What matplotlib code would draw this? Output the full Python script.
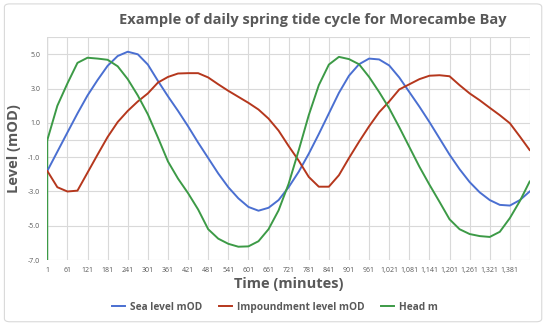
import matplotlib
matplotlib.use("Agg")
import matplotlib.pyplot as plt
from matplotlib.patches import FancyBboxPatch

# time in minutes, sampled every 30 min off the chart
minutes = [1, 31, 61, 91, 121, 151, 181, 211, 241, 271, 301, 331, 361, 391, 421,
           451, 481, 511, 541, 571, 601, 631, 661, 691, 721, 751, 781, 811, 841,
           871, 901, 931, 961, 991, 1021, 1051, 1081, 1111, 1141, 1171, 1201,
           1231, 1261, 1291, 1321, 1351, 1381, 1411, 1440]

sea_level = [-1.80, -0.68, 0.44, 1.55, 2.60, 3.50, 4.33, 4.90, 5.15, 5.00, 4.40,
             3.45, 2.55, 1.70, 0.80, -0.15, -1.05, -1.95, -2.75, -3.40, -3.90,
             -4.12, -3.95, -3.50, -2.75, -1.85, -0.80, 0.35, 1.55, 2.75, 3.75,
             4.42, 4.75, 4.70, 4.35, 3.65, 2.80, 1.95, 1.05, 0.10, -0.85, -1.70,
             -2.45, -3.05, -3.50, -3.78, -3.82, -3.50, -3.00]

impoundment = [-1.80, -2.75, -3.00, -2.95, -1.90, -0.85, 0.18, 1.05, 1.70, 2.25,
               2.72, 3.35, 3.68, 3.88, 3.90, 3.90, 3.65, 3.25, 2.87, 2.52, 2.17,
               1.78, 1.25, 0.55, -0.35, -1.20, -2.15, -2.72, -2.72, -2.05, -1.05,
               -0.10, 0.80, 1.62, 2.25, 2.95, 3.25, 3.55, 3.75, 3.78, 3.72, 3.20,
               2.72, 2.32, 1.88, 1.45, 0.98, 0.20, -0.58]

head = [0.00, 2.00, 3.30, 4.50, 4.80, 4.75, 4.68, 4.30, 3.55, 2.60, 1.50, 0.15,
        -1.25, -2.25, -3.10, -4.05, -5.20, -5.75, -6.05, -6.22, -6.20, -5.90,
        -5.20, -4.10, -2.55, -0.60, 1.45, 3.20, 4.40, 4.85, 4.72, 4.42, 3.68,
        2.80, 1.85, 0.75, -0.40, -1.55, -2.60, -3.60, -4.62, -5.20, -5.48,
        -5.60, -5.65, -5.35, -4.55, -3.55, -2.42]

x_ticks = list(range(1, 1382, 60))
y_ticks = [-7, -5, -3, -1, 1, 3, 5]

BLUE = "#4A6FD1"
RED = "#B5371D"
GREEN = "#3C9A46"
GRID = "#D9D9D9"
TEXT = "#595959"

plt.rcParams['font.family'] = ['Open Sans', 'DejaVu Sans']

fig = plt.figure(figsize=(5.5, 3.25), dpi=100)
ax = fig.add_axes([0.086, 0.1997, 0.8776, 0.686])

# chart frame
frame = FancyBboxPatch((0.008, 0.01), 0.977, 0.978, boxstyle="round,pad=0,rounding_size=0.01",
                       transform=fig.transFigure, facecolor="none", edgecolor="#D9D9D9",
                       linewidth=0.8)
fig.patches.append(frame)

ax.set_xlim(1, 1441)
ax.set_ylim(-7, 6)

for t in x_ticks + [1441]:
    ax.axvline(t, color=GRID, linewidth=0.8, zorder=0)
for v in y_ticks + [0, 6]:
    ax.axhline(v, color=GRID, linewidth=0.8, zorder=0)

ax.plot(minutes, sea_level, color=BLUE, linewidth=1.4, label="Sea level mOD", zorder=3)
ax.plot(minutes, impoundment, color=RED, linewidth=1.4, label="Impoundment level mOD", zorder=3)
ax.plot(minutes, head, color=GREEN, linewidth=1.4, label="Head m", zorder=3)

# left axis line, green below zero like in the original
ax.axvline(minutes[0], ymin=0, ymax=1, color=GRID, linewidth=1.0, zorder=1)
ax.axvline(minutes[0], ymin=0, ymax=7 / 13, color=GREEN, linewidth=1.0, zorder=2)

for s in ax.spines.values():
    s.set_visible(False)

ax.set_xticks(x_ticks)
ax.set_xticklabels(["{:,}".format(t) for t in x_ticks])
ax.set_yticks(y_ticks)
ax.set_yticklabels(["{:.1f}".format(v) for v in y_ticks])
ax.tick_params(axis="both", length=0, labelsize=5, colors=TEXT, pad=5)

ax.set_xlabel("Time (minutes)", fontsize=10.5, fontweight="bold", color=TEXT, labelpad=2)
ax.set_ylabel("Level (mOD)", fontsize=10.5, fontweight="bold", color=TEXT, labelpad=5)

fig.text(0.569, 0.938, "Example of daily spring tide cycle for Morecambe Bay",
         ha="center", va="center", fontsize=10.5, fontweight="bold", color=TEXT)

leg = fig.legend(loc="center", bbox_to_anchor=(0.5, 0.055), ncol=3, frameon=False,
                 fontsize=7.3, handlelength=1.3, columnspacing=1.6, handletextpad=0.5)
for txt in leg.get_texts():
    txt.set_color(TEXT)
    txt.set_fontweight("bold")

fig.savefig("out.png", dpi=100)
